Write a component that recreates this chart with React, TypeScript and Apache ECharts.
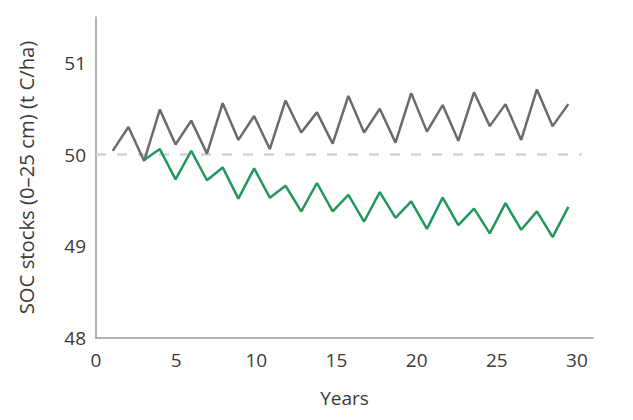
import React, { useEffect, useRef } from "react";
import * as echarts from "echarts";

const years: number[] = [
  1, 2, 3, 4, 5, 6, 7, 8, 9, 10, 11, 12, 13, 14, 15,
  16, 17, 18, 19, 20, 21, 22, 23, 24, 25, 26, 27, 28, 29, 30,
];

const greySeries: number[] = [
  50.04, 50.3, 49.93, 50.49, 50.11, 50.37, 50.01, 50.56, 50.16, 50.42,
  50.06, 50.59, 50.24, 50.46, 50.12, 50.64, 50.24, 50.5, 50.13, 50.67,
  50.25, 50.54, 50.15, 50.68, 50.31, 50.55, 50.16, 50.71, 50.31, 50.55,
];

// green series starts at year 3
const greenStartYear = 3;
const greenSeries: number[] = [
  49.94, 50.06, 49.73, 50.04, 49.72, 49.86, 49.52, 49.85, 49.53, 49.66,
  49.38, 49.69, 49.38, 49.56, 49.27, 49.59, 49.31, 49.49, 49.19, 49.53,
  49.23, 49.41, 49.14, 49.47, 49.18, 49.38, 49.1, 49.43,
];

const baselineX: number[] = [0, 30.3];
const baselineValue = 50;

const xTicks = { min: 0, max: 31, interval: 5 };
const yTicks = { min: 48, max: 51.5, interval: 1 };

export default function App() {
  const ref = useRef<HTMLDivElement>(null);
  useEffect(() => {
    if (!ref.current) return;
    const chart = echarts.init(ref.current, null, { renderer: "svg" });
    const font = "Open Sans";
    const textColor = "#3a3a3a";
    chart.setOption({
      animation: false,
      grid: { left: 96, right: 40, top: 17, bottom: 82 },
      xAxis: [
        {
          type: "value",
          min: xTicks.min,
          max: xTicks.max,
          interval: xTicks.interval,
          name: "Years",
          nameLocation: "middle",
          nameGap: 50,
          nameTextStyle: { fontFamily: font, fontSize: 19, color: textColor },
          axisLine: { show: true, lineStyle: { color: "#9a9a9a", width: 1.5 } },
          axisTick: { show: false },
          splitLine: { show: false },
          axisLabel: {
            margin: 12,
            fontFamily: font,
            fontSize: 19,
            color: textColor,
            formatter: (v: number) => (v % 5 === 0 ? String(v) : ""),
          },
        },
        {
          type: "value",
          min: -0.063,
          max: 31.57,
          show: false,
        },
      ],
      yAxis: {
        type: "value",
        min: yTicks.min,
        max: yTicks.max,
        interval: yTicks.interval,
        name: "SOC stocks (0–25 cm) (t C/ha)",
        nameLocation: "middle",
        nameGap: 60,
        nameTextStyle: { fontFamily: font, fontSize: 20.3, color: textColor },
        axisLine: { show: true, lineStyle: { color: "#9a9a9a", width: 1.5 } },
        axisTick: { show: false },
        splitLine: { show: false },
        axisLabel: {
          margin: 10,
          fontFamily: font,
          fontSize: 19,
          color: textColor,
          formatter: (v: number) => (Number.isInteger(v) ? String(v) : ""),
        },
      },
      series: [
        {
          name: "Baseline",
          type: "line",
          xAxisIndex: 0,
          data: baselineX.map((x) => [x, baselineValue]),
          symbol: "none",
          lineStyle: { color: "#d2d2d2", width: 2.5, type: [10, 11] },
          z: 1,
        },
        {
          name: "Grey",
          type: "line",
          xAxisIndex: 1,
          data: years.map((y, i) => [y, greySeries[i]]),
          symbol: "none",
          lineStyle: { color: "#6b6b6e", width: 2.5 },
          z: 2,
        },
        {
          name: "Green",
          type: "line",
          xAxisIndex: 1,
          data: greenSeries.map((v, i) => [greenStartYear + i, v]),
          symbol: "none",
          lineStyle: { color: "#22985c", width: 2.5 },
          z: 3,
        },
      ],
    });
    return () => chart.dispose();
  }, []);
  return (
    <div
      ref={ref}
      style={{ position: "absolute", left: 0, top: 0, width: 633, height: 420, background: "#fff" }}
    />
  );
}
